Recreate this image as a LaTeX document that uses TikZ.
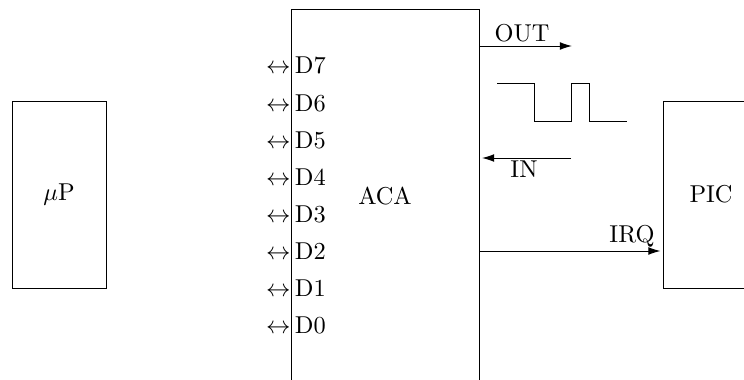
\documentclass[tikz,border=0pt]{standalone}
\usetikzlibrary{arrows.meta}
\newlength\pxu
\setlength\pxu{0.41pt}
\begin{document}
\begin{tikzpicture}[x=\pxu,y=-\pxu,
  every node/.style={inner sep=0pt},
  box/.style={draw, line width=0.4pt},
  sig/.style={-{Latex[length=5pt,width=3.2pt]}, line width=0.4pt}]
\useasboundingbox (0,0) rectangle (744,379);
\clip (0,0) rectangle (744,379);
% boxes
\node[box, minimum width=94\pxu, minimum height=187\pxu] (up) at (59,194.5) {$\mu$P};
\node[box, minimum width=188\pxu, minimum height=391\pxu] (aca) at (385,204.5) {};
\node (acalbl) at (385,196) {ACA};
\node[box, minimum width=96\pxu, minimum height=187\pxu] (pic) at (711,194.5) {PIC};
% data lines
\foreach \n [count=\k from 0] in {7,6,5,4,3,2,1,0}{
  \node[anchor=base east] (arr\n) at (291,74+37.14*\k) {$\leftrightarrow$};
  \node[anchor=base west] (d\n) at (294.5,74+37.14*\k) {D\n};
}
% OUT
\coordinate (outend) at (572,46);
\draw[sig] (aca.east |- outend) -- (outend);
\node[anchor=base] (outlbl) at (522,42) {OUT};
% waveform
\draw[line width=0.4pt] (497,83) -- (534,83) -- (534,121) -- (571,121) -- (571,83) -- (589,83) -- (589,121) -- (627,121);
% IN
\coordinate (instart) at (571,158);
\coordinate (inend) at (482,158);
\draw[sig] (instart) -- (inend);
\node[anchor=base] (inlbl) at (524,177) {IN};
% IRQ
\coordinate (irqy) at (0,251);
\draw[sig, shorten >=2\pxu] (aca.east |- irqy) -- (pic.west |- irqy);
\node[anchor=base east] (irqlbl) at (655,242) {IRQ};
\end{tikzpicture}
\end{document}
